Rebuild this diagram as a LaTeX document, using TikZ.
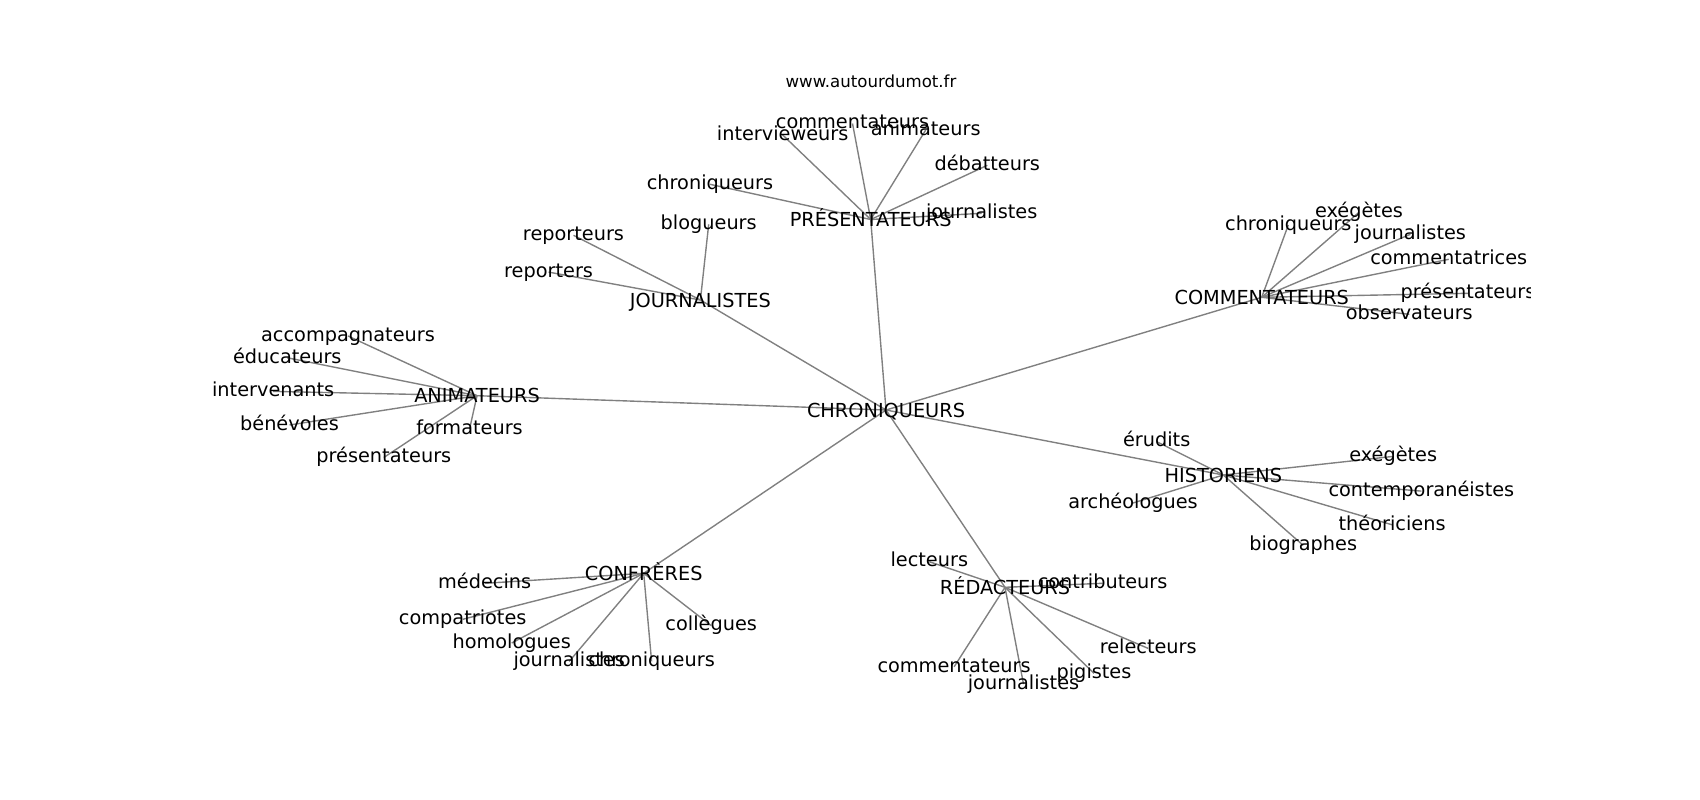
\documentclass[tikz,border=0pt]{standalone}
\usepackage{fontspec}
\setmainfont{DejaVu Sans}
\usetikzlibrary{backgrounds}

\begin{document}
\begin{tikzpicture}[x=1pt,y=-1pt,
		word/.style={font=\fontsize{19.3pt}{22pt}\selectfont, inner sep=0pt, text height=14.6pt, text depth=4.2pt},
		hub/.style={font=\fontsize{19.3pt}{22pt}\selectfont, inner sep=0pt, text height=14.1pt, text depth=0pt},
		site/.style={font=\fontsize{16.6pt}{19pt}\selectfont, inner sep=0pt, text height=12.6pt, text depth=3.6pt},
		link/.style={draw=gray, line width=1.39pt}]
		\useasboundingbox (0,0) rectangle (1700,800);

		\node[site] (url) at (871,83) {www.autourdumot.fr};

		\begin{scope}
		\clip (212.5,96) rectangle (1530,712);

		\node[hub] (chron) at (886,410) {CHRONIQUEURS};

		\node[hub] (pres) at (870.7,219.5) {PRÉSENTATEURS};
		\node[word] (pcomm) at (852.5,123.5) {commentateurs};
		\node[word] (panim) at (925.7,130) {animateurs};
		\node[word] (pinter) at (782.7,135) {intervieweurs};
		\node[word] (pdeb) at (987.3,165.3) {débatteurs};
		\node[word] (pchron) at (710,184.3) {chroniqueurs};
		\node[word] (pjourn) at (981.7,213.3) {journalistes};

		\node[hub] (journ) at (700.4,300) {JOURNALISTES};
		\node[word] (jblog) at (708.7,224.3) {blogueurs};
		\node[word] (jrepteurs) at (573.5,235.3) {reporteurs};
		\node[word] (jrepters) at (548.6,272.1) {reporters};

		\node[hub] (anim) at (477,395.7) {ANIMATEURS};
		\node[word] (aaccomp) at (348,336) {accompagnateurs};
		\node[word] (aeduc) at (287.3,357.8) {éducateurs};
		\node[word] (ainterv) at (273.2,391.4) {intervenants};
		\node[word] (abenev) at (289.5,425) {bénévoles};
		\node[word] (aform) at (469.5,429.3) {formateurs};
		\node[word] (apres) at (383.8,457.5) {présentateurs};

		\node[hub] (comm) at (1261.7,297.3) {COMMENTATEURS};
		\node[word] (cchron) at (1288.3,225) {chroniqueurs};
		\node[word] (cexeg) at (1359,212.3) {exégètes};
		\node[word] (cjourn) at (1410.3,234.3) {journalistes};
		\node[word] (ccommtr) at (1448.7,259.3) {commentatrices};
		\node[word] (cpres) at (1468,293.3) {présentateurs};
		\node[word] (cobs) at (1409.3,314.3) {observateurs};

		\node[hub] (hist) at (1223.3,475) {HISTORIENS};
		\node[word] (herud) at (1156.7,441.7) {érudits};
		\node[word] (hexeg) at (1393.2,456.4) {exégètes};
		\node[word] (hcontemp) at (1421.4,491.1) {contemporanéistes};
		\node[word] (htheor) at (1392.1,524.8) {théoriciens};
		\node[word] (hbiog) at (1303.2,545.4) {biographes};
		\node[word] (harch) at (1133,503) {archéologues};

		\node[hub] (redac) at (1005,587.3) {RÉDACTEURS};
		\node[word] (rlect) at (929.3,561.7) {lecteurs};
		\node[word] (rcontrib) at (1102.6,583.3) {contributeurs};
		\node[word] (rrelect) at (1148.2,648.4) {relecteurs};
		\node[word] (rpig) at (1094,673.3) {pigistes};
		\node[word] (rjourn) at (1023.5,684.1) {journalistes};
		\node[word] (rcomm) at (954.1,666.8) {commentateurs};

		\node[hub] (confr) at (643.7,573.3) {CONFRÈRES};
		\node[word] (fmed) at (484.7,583.3) {médecins};
		\node[word] (fcompat) at (462.7,619.3) {compatriotes};
		\node[word] (fhomol) at (511.7,643) {homologues};
		\node[word] (fjourn) at (569.2,661.4) {journalistes};
		\node[word] (fchron) at (651.6,661.4) {chroniqueurs};
		\node[word] (fcoll) at (711.2,625.6) {collègues};
		\end{scope}

		\begin{scope}[on background layer]
		\draw[link] (chron.center) edge (pres.center)
		(chron.center) edge (journ.center)
		(chron.center) edge (anim.center)
		(chron.center) edge (comm.center)
		(chron.center) edge (hist.center)
		(chron.center) edge (redac.center)
		(chron.center) edge (confr.center)
		(pres.center) edge (pcomm.center)
		(pres.center) edge (panim.center)
		(pres.center) edge (pinter.center)
		(pres.center) edge (pdeb.center)
		(pres.center) edge (pchron.center)
		(pres.center) edge (pjourn.center)
		(journ.center) edge (jblog.center)
		(journ.center) edge (jrepteurs.center)
		(journ.center) edge (jrepters.center)
		(anim.center) edge (aaccomp.center)
		(anim.center) edge (aeduc.center)
		(anim.center) edge (ainterv.center)
		(anim.center) edge (abenev.center)
		(anim.center) edge (aform.center)
		(anim.center) edge (apres.center)
		(comm.center) edge (cchron.center)
		(comm.center) edge (cexeg.center)
		(comm.center) edge (cjourn.center)
		(comm.center) edge (ccommtr.center)
		(comm.center) edge (cpres.center)
		(comm.center) edge (cobs.center)
		(hist.center) edge (herud.center)
		(hist.center) edge (hexeg.center)
		(hist.center) edge (hcontemp.center)
		(hist.center) edge (htheor.center)
		(hist.center) edge (hbiog.center)
		(hist.center) edge (harch.center)
		(redac.center) edge (rlect.center)
		(redac.center) edge (rcontrib.center)
		(redac.center) edge (rrelect.center)
		(redac.center) edge (rpig.center)
		(redac.center) edge (rjourn.center)
		(redac.center) edge (rcomm.center)
		(confr.center) edge (fmed.center)
		(confr.center) edge (fcompat.center)
		(confr.center) edge (fhomol.center)
		(confr.center) edge (fjourn.center)
		(confr.center) edge (fchron.center)
		(confr.center) edge (fcoll.center);
		\end{scope}

	\end{tikzpicture}
\end{document}
